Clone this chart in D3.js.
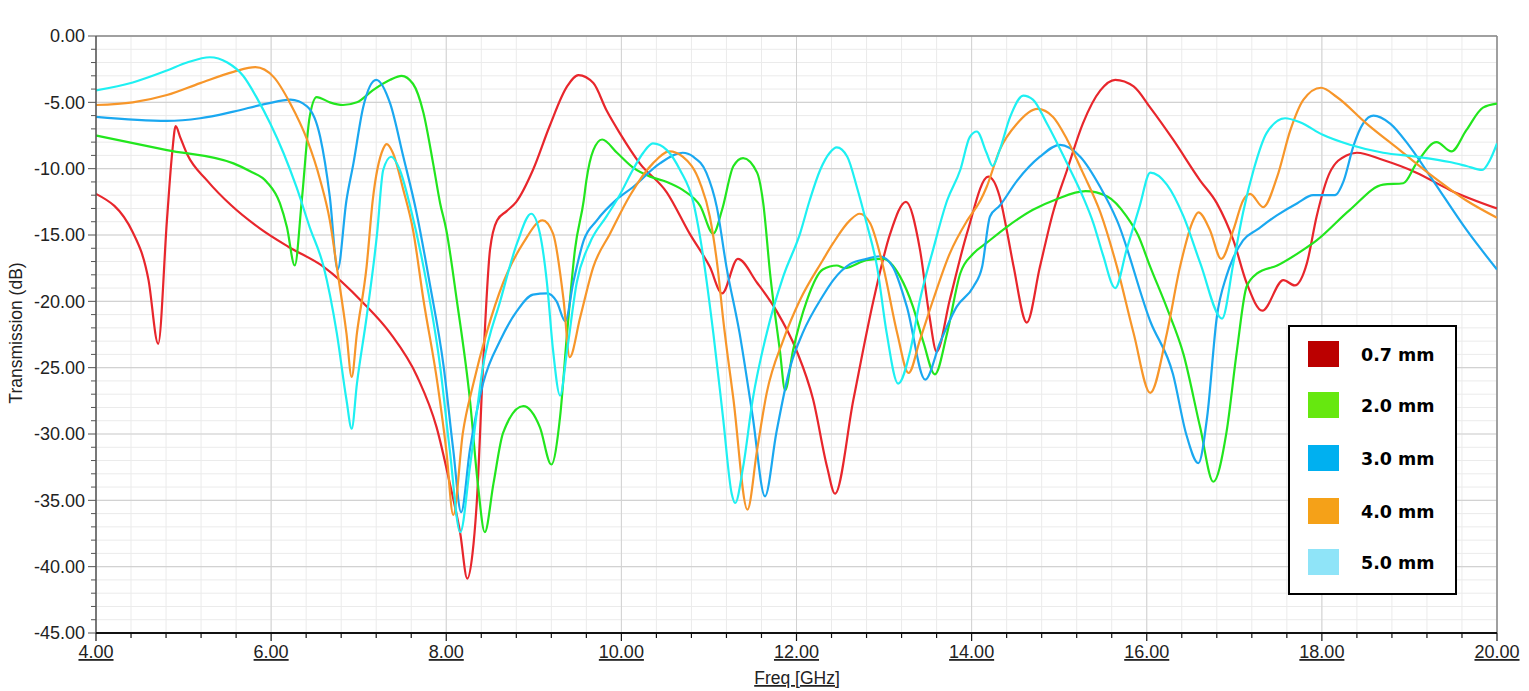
<!DOCTYPE html>
<html><head><meta charset="utf-8">
<script src="https://cdn.jsdelivr.net/npm/d3@7"></script>
<style>body{margin:0;background:#fff;} svg{display:block;}</style>
</head><body>
<svg id="chart" width="1529" height="691"></svg>
<script>
// ---- data ----
const seriesNames = ["0.7 mm", "2.0 mm", "3.0 mm", "4.0 mm", "5.0 mm"];
const lineColors = ["#e8262c", "#22e61e", "#1aa8f0", "#f7962a", "#1ef0f2"];
const legendColors = ["#bb0000", "#66e80f", "#00b0f0", "#f5a118", "#8fe4f8"];
const xTicks = [4, 6, 8, 10, 12, 14, 16, 18, 20];
const yTicks = [0, -5, -10, -15, -20, -25, -30, -35, -40, -45];

const freq07 = [4.00,4.42,4.60,4.71,4.81,4.87,4.91,4.96,5.04,5.27,5.55,5.87,6.20,6.60,7.05,7.36,7.67,7.89,8.04,8.16,8.24,8.30,8.35,8.42,8.50,8.58,8.69,8.80,8.99,9.18,9.38,9.51,9.68,9.83,9.98,10.21,10.52,10.78,11.01,11.15,11.33,11.55,11.77,12.00,12.19,12.35,12.44,12.65,12.88,13.07,13.25,13.41,13.52,13.60,13.75,13.95,14.19,14.32,14.40,14.48,14.63,14.78,14.93,15.09,15.27,15.47,15.64,15.85,16.04,16.30,16.61,16.80,16.99,17.14,17.32,17.56,17.69,17.83,17.94,18.09,18.28,18.40,18.70,19.08,19.46,20.00];
const val07  = [-11.9,-14.8,-18.4,-23.2,-13.9,-8.8,-6.8,-7.6,-8.9,-10.9,-12.8,-14.5,-15.9,-17.4,-20.1,-22.4,-25.7,-29.5,-33.7,-37.5,-40.9,-39.0,-35.0,-24.9,-16.1,-13.9,-13.2,-12.5,-10.1,-6.8,-3.8,-2.95,-3.55,-5.6,-7.3,-9.6,-11.8,-14.9,-17.4,-19.4,-16.8,-18.6,-20.7,-23.7,-27.4,-32.5,-34.5,-27.4,-19.9,-14.9,-12.5,-16.1,-21.2,-23.8,-19.9,-14.8,-10.6,-12.1,-14.6,-17.4,-21.6,-17.4,-13.3,-10.1,-6.6,-4.1,-3.3,-3.8,-5.4,-7.8,-10.9,-12.6,-15.4,-18.6,-20.7,-18.4,-18.8,-17.1,-13.6,-10.3,-9.0,-8.8,-9.35,-10.3,-11.6,-13.0];

const freq20 = [4.00,4.81,5.57,5.76,5.95,6.10,6.18,6.27,6.35,6.44,6.52,6.67,6.82,6.98,7.16,7.36,7.49,7.62,7.74,7.85,7.93,8.00,8.12,8.27,8.36,8.44,8.54,8.65,8.88,9.07,9.20,9.30,9.38,9.47,9.57,9.60,9.68,9.78,9.95,10.13,10.33,10.52,10.70,10.90,11.05,11.15,11.28,11.39,11.55,11.62,11.70,11.81,11.87,11.96,12.12,12.30,12.46,12.55,12.80,12.99,13.18,13.33,13.45,13.58,13.72,13.87,14.02,14.17,14.40,14.70,14.97,15.30,15.55,15.77,15.90,16.04,16.23,16.42,16.61,16.76,16.91,17.03,17.14,17.26,17.49,17.79,17.94,18.32,18.70,18.93,19.08,19.31,19.48,19.65,19.84,20.00];
const val20  = [-7.5,-8.6,-9.6,-10.2,-11.0,-12.6,-14.4,-17.3,-12.4,-6.1,-4.6,-5.0,-5.2,-5.0,-4.1,-3.3,-3.0,-3.6,-5.8,-9.6,-12.6,-14.6,-19.9,-27.4,-33.7,-37.4,-33.7,-29.9,-27.9,-29.5,-32.3,-28.7,-22.4,-16.1,-12.4,-10.9,-8.6,-7.8,-8.8,-9.9,-10.6,-11.0,-11.6,-12.8,-14.9,-13.1,-9.8,-9.2,-10.3,-12.6,-18.0,-23.7,-26.7,-23.7,-19.9,-17.6,-17.3,-17.5,-16.9,-16.8,-18.1,-20.4,-23.1,-25.5,-22.4,-17.9,-16.4,-15.6,-14.4,-13.1,-12.3,-11.7,-12.1,-13.6,-15.0,-17.4,-20.5,-24.0,-29.5,-33.6,-29.9,-23.7,-18.9,-17.9,-17.3,-16.1,-15.4,-13.1,-11.2,-11.1,-9.6,-8.0,-8.7,-7.1,-5.4,-5.1];

const freq30 = [4.00,4.81,5.19,5.57,5.95,6.22,6.41,6.56,6.67,6.76,6.86,6.94,7.05,7.20,7.36,7.51,7.66,7.81,7.97,8.08,8.17,8.27,8.42,8.62,8.81,8.99,9.15,9.26,9.36,9.45,9.57,9.72,9.95,10.13,10.44,10.70,10.82,10.97,11.09,11.20,11.35,11.50,11.64,11.77,11.93,12.07,12.30,12.42,12.61,12.80,12.95,13.10,13.26,13.47,13.64,13.83,14.02,14.12,14.21,14.32,14.52,14.78,15.01,15.24,15.47,15.66,16.04,16.30,16.45,16.59,16.69,16.80,16.91,16.99,17.10,17.26,17.49,17.72,17.90,18.15,18.25,18.36,18.47,18.59,18.78,19.00,19.27,19.65,20.00];
const val30  = [-6.1,-6.4,-6.2,-5.7,-5.1,-4.8,-5.3,-7.6,-12.1,-17.6,-12.4,-9.6,-5.4,-3.3,-5.1,-9.1,-13.3,-18.6,-24.9,-31.2,-35.9,-31.2,-26.2,-22.9,-20.7,-19.5,-19.4,-20.0,-21.5,-18.6,-15.4,-13.9,-12.3,-11.4,-9.6,-8.8,-9.1,-10.3,-12.9,-17.4,-22.4,-28.7,-34.7,-29.9,-24.9,-22.4,-19.6,-18.4,-17.2,-16.8,-16.6,-17.4,-20.4,-25.9,-23.1,-20.4,-18.9,-17.4,-13.6,-12.8,-10.9,-9.1,-8.2,-9.1,-11.4,-13.9,-21.5,-25.5,-30.0,-32.2,-28.7,-21.2,-18.1,-16.7,-15.4,-14.6,-13.5,-12.6,-12.0,-12.0,-10.9,-8.3,-6.6,-6.0,-6.6,-8.3,-10.9,-14.6,-17.6];

const freq40 = [4.00,4.42,4.81,5.19,5.57,5.82,6.03,6.22,6.41,6.56,6.67,6.75,6.86,6.92,6.98,7.09,7.16,7.28,7.32,7.39,7.51,7.62,7.74,7.90,8.00,8.08,8.19,8.31,8.46,8.65,8.88,9.10,9.22,9.34,9.41,9.53,9.68,9.87,10.10,10.36,10.55,10.70,10.90,11.01,11.10,11.16,11.28,11.44,11.55,11.66,11.85,12.04,12.30,12.42,12.61,12.72,12.84,12.99,13.15,13.28,13.41,13.56,13.75,13.95,14.10,14.17,14.32,14.52,14.75,14.93,15.09,15.27,15.47,15.66,15.85,16.04,16.23,16.38,16.53,16.59,16.72,16.85,16.99,17.10,17.18,17.33,17.49,17.64,17.79,17.99,18.17,18.51,18.89,19.27,19.65,20.00];
const val40  = [-5.2,-5.0,-4.45,-3.55,-2.7,-2.35,-3.1,-5.1,-7.8,-10.85,-13.9,-17.4,-22.4,-25.7,-22.4,-17.4,-12.4,-8.5,-8.15,-8.8,-11.6,-14.6,-19.9,-26.2,-31.2,-36.1,-29.9,-26.2,-22.4,-18.6,-15.6,-13.9,-14.9,-19.9,-24.2,-21.2,-17.4,-14.9,-12.0,-9.6,-8.7,-9.1,-11.1,-13.6,-17.5,-21.2,-27.4,-35.7,-31.2,-26.9,-22.9,-19.9,-16.9,-15.6,-13.9,-13.4,-14.1,-17.4,-22.4,-25.4,-22.9,-19.9,-16.4,-13.9,-12.4,-11.4,-8.6,-6.6,-5.5,-6.1,-7.8,-10.3,-13.3,-17.4,-22.4,-26.9,-22.4,-17.4,-13.9,-13.3,-14.6,-16.8,-14.6,-12.4,-11.9,-12.9,-10.6,-7.1,-4.8,-3.9,-4.6,-6.6,-8.6,-10.6,-12.4,-13.7];

const freq50 = [4.00,4.42,4.81,5.04,5.30,5.50,5.68,5.84,5.99,6.14,6.29,6.44,6.60,6.75,6.86,6.92,6.98,7.09,7.21,7.28,7.37,7.47,7.59,7.74,7.93,8.04,8.16,8.27,8.42,8.62,8.81,8.97,9.07,9.15,9.22,9.30,9.38,9.49,9.64,9.83,9.98,10.13,10.25,10.36,10.52,10.67,10.82,10.90,11.05,11.16,11.26,11.30,11.39,11.50,11.66,11.85,12.04,12.15,12.27,12.38,12.46,12.58,12.69,12.80,12.92,13.03,13.16,13.30,13.41,13.56,13.72,13.87,13.98,14.06,14.17,14.24,14.32,14.44,14.59,14.70,14.86,15.09,15.27,15.39,15.50,15.64,15.77,15.92,16.04,16.23,16.42,16.61,16.86,16.99,17.10,17.22,17.37,17.58,17.75,18.01,18.32,18.70,19.08,19.46,19.65,19.83,19.92,20.00];
const val50  = [-4.1,-3.5,-2.6,-2.0,-1.6,-2.0,-3.0,-4.7,-6.6,-8.8,-11.4,-14.4,-17.4,-22.4,-27.4,-29.6,-26.2,-21.2,-14.9,-10.1,-9.1,-10.1,-12.9,-17.4,-24.9,-31.2,-37.4,-32.5,-24.9,-19.9,-15.6,-13.4,-14.9,-18.6,-23.7,-27.1,-23.7,-18.6,-15.6,-13.6,-12.0,-10.1,-8.8,-8.1,-8.6,-10.1,-12.5,-15.2,-22.4,-28.7,-34.5,-35.2,-32.5,-27.4,-22.4,-18.1,-14.9,-12.4,-10.1,-8.8,-8.4,-9.1,-11.4,-14.1,-17.4,-22.4,-26.2,-23.7,-19.9,-16.1,-12.4,-10.1,-7.6,-7.2,-8.8,-9.8,-8.6,-6.1,-4.5,-4.8,-6.6,-9.6,-12.1,-14.1,-16.5,-19.0,-16.1,-12.8,-10.3,-11.2,-13.6,-17.1,-21.3,-17.1,-13.3,-10.1,-7.3,-6.2,-6.5,-7.45,-8.2,-8.8,-9.1,-9.5,-9.8,-10.1,-9.35,-8.1];

const seriesFreqs = [freq07, freq20, freq30, freq40, freq50];
const seriesVals = [val07, val20, val30, val40, val50];

// ---- layout ----
const svg = d3.select("#chart");
const L = 96, R = 1497, T = 36, B = 633;
const x = d3.scaleLinear().domain([4, 20]).range([L, R]);
const y = d3.scaleLinear().domain([-45, 0]).range([B, T]);
const font = "Liberation Sans, Arial, sans-serif";

// grid
const g = svg.append("g");
const xMinor = d3.range(4, 20.001, 0.4);
const yMinor = d3.range(-45, 0.001, 1);
g.selectAll(".vmin").data(xMinor).enter().append("line")
  .attr("x1", d => x(d)).attr("x2", d => x(d)).attr("y1", T).attr("y2", B)
  .attr("stroke", "#ebebeb").attr("stroke-width", 1);
g.selectAll(".hmin").data(yMinor).enter().append("line")
  .attr("x1", L).attr("x2", R).attr("y1", d => y(d)).attr("y2", d => y(d))
  .attr("stroke", "#ebebeb").attr("stroke-width", 1);
g.selectAll(".vmaj").data(xTicks).enter().append("line")
  .attr("x1", d => x(d)).attr("x2", d => x(d)).attr("y1", T).attr("y2", B)
  .attr("stroke", "#d2d2d2").attr("stroke-width", 1);
g.selectAll(".hmaj").data(yTicks).enter().append("line")
  .attr("x1", L).attr("x2", R).attr("y1", d => y(d)).attr("y2", d => y(d))
  .attr("stroke", "#d2d2d2").attr("stroke-width", 1.2);

// frame top/right
svg.append("line").attr("x1", L).attr("x2", R).attr("y1", T).attr("y2", T).attr("stroke", "#8a8a8a").attr("stroke-width", 1.5);
svg.append("line").attr("x1", R).attr("x2", R).attr("y1", T).attr("y2", B).attr("stroke", "#8a8a8a").attr("stroke-width", 1.5);

// lines
const clip = svg.append("clipPath").attr("id", "clip").append("rect")
  .attr("x", L).attr("y", T - 2).attr("width", R - L).attr("height", B - T + 2);
const lineGen = d3.line().x(d => x(d[0])).y(d => y(d[1])).curve(d3.curveMonotoneX);
const lg = svg.append("g").attr("clip-path", "url(#clip)");
seriesFreqs.forEach((fs, i) => {
  const pts = fs.map((f, j) => [f, seriesVals[i][j]]);
  lg.append("path").datum(pts).attr("d", lineGen)
    .attr("fill", "none").attr("stroke", lineColors[i]).attr("stroke-width", 2.2)
    .attr("stroke-linejoin", "round");
});

// y axis
const yAxis = svg.append("g");
yAxis.append("line").attr("x1", L).attr("x2", L).attr("y1", T).attr("y2", B).attr("stroke", "#555").attr("stroke-width", 1.5);
yAxis.selectAll(".yt").data(yMinor).enter().append("line")
  .attr("x1", d => (d % 5 === 0 ? L - 8 : L - 5)).attr("x2", L)
  .attr("y1", d => y(d)).attr("y2", d => y(d)).attr("stroke", "#555").attr("stroke-width", 1);
yAxis.selectAll(".yl").data(yTicks).enter().append("text")
  .attr("x", 85).attr("y", d => y(d)).attr("dy", "0.36em")
  .attr("text-anchor", "end").attr("font-family", font).attr("font-size", 18).attr("fill", "#222")
  .text(d => d.toFixed(2));

// x axis
const xAxis = svg.append("g");
xAxis.append("line").attr("x1", L).attr("x2", R).attr("y1", B).attr("y2", B).attr("stroke", "#111").attr("stroke-width", 2);
xAxis.selectAll(".xt").data(xMinor).enter().append("line")
  .attr("x1", d => x(d)).attr("x2", d => x(d))
  .attr("y1", B).attr("y2", d => (Math.abs(d / 2 - Math.round(d / 2)) < 1e-6 ? B + 8 : B + 5))
  .attr("stroke", "#111").attr("stroke-width", 1.2);
xAxis.selectAll(".xl").data(xTicks).enter().append("text")
  .attr("x", d => x(d)).attr("y", 658)
  .attr("text-anchor", "middle").attr("font-family", font).attr("font-size", 18).attr("fill", "#222")
  .attr("text-decoration", "underline")
  .text(d => d.toFixed(2));
svg.append("text").attr("x", 797).attr("y", 684).attr("text-anchor", "middle")
  .attr("font-family", font).attr("font-size", 17.5).attr("fill", "#222")
  .attr("text-decoration", "underline").text("Freq [GHz]");
svg.append("text").attr("transform", "translate(22,333) rotate(-90)").attr("text-anchor", "middle")
  .attr("font-family", font).attr("font-size", 17.5).attr("fill", "#222").text("Transmission (dB)");

// legend
const leg = svg.append("g");
leg.append("rect").attr("x", 1289).attr("y", 326).attr("width", 167).attr("height", 268)
  .attr("fill", "#fff").attr("stroke", "#000").attr("stroke-width", 2);
const legY = [341, 392, 445, 498, 549];
seriesNames.forEach((n, i) => {
  leg.append("rect").attr("x", 1308).attr("y", legY[i]).attr("width", 31).attr("height", 26).attr("fill", legendColors[i]);
  leg.append("text").attr("x", 1361).attr("y", legY[i] + 20)
    .attr("font-family", "DejaVu Sans, sans-serif").attr("font-size", 17.5).attr("font-weight", 600).attr("fill", "#000")
    .text(n);
});
</script>
</body></html>
